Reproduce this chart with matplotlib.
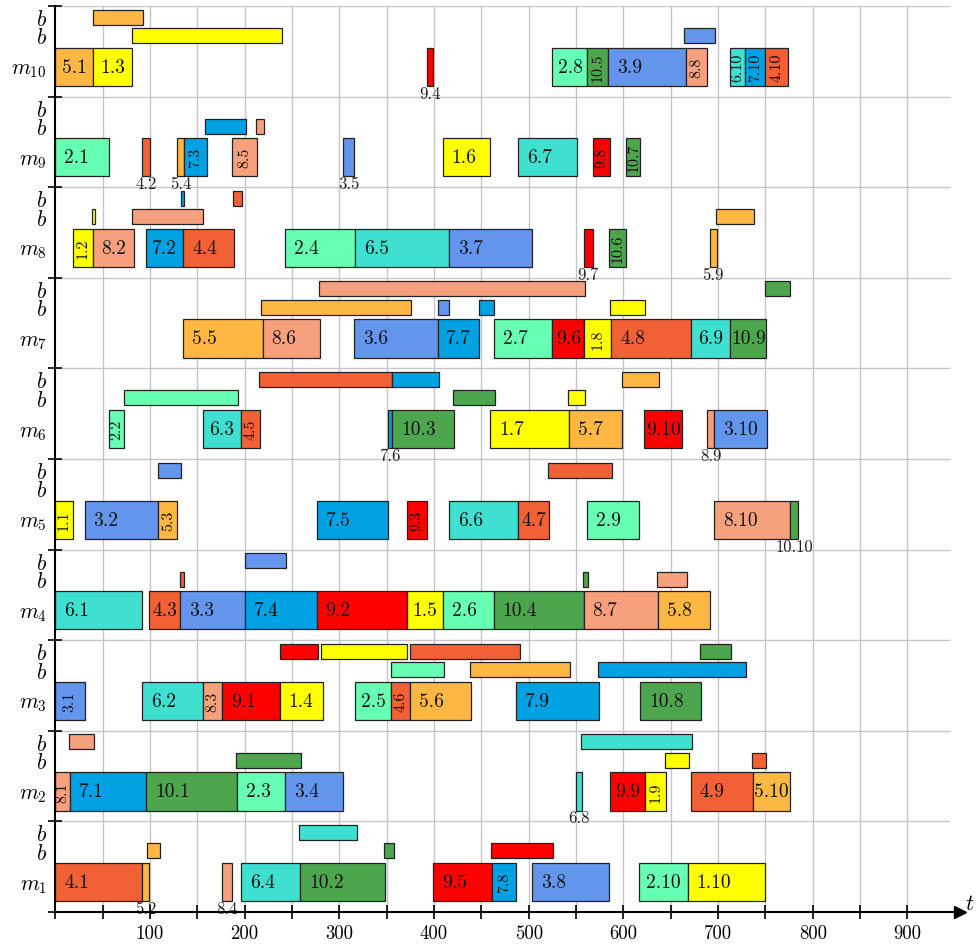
import matplotlib.pyplot as plt
import numpy as np

plt.rcParams['mathtext.fontset'] = 'cm'
plt.rcParams['font.family'] = 'cmr10'
plt.rcParams['axes.formatter.use_mathtext'] = True

# colour of every job
job_colors = {1: '#FFFF00', 2: '#66FFB3', 3: '#6495ED', 4: '#F26035', 5: '#FDB844',
              6: '#40E0D0', 7: '#00A2E3', 8: '#F6A07D', 9: '#FF0000', 10: '#4DA64D'}

# operations "job.op" on each machine: (machine, label, start, end)
ops = [
    (1, '4.1', 0, 92), (1, '5.2', 92, 99), (1, '8.4', 176, 187), (1, '6.4', 196, 259),
    (1, '10.2', 259, 348), (1, '9.5', 399, 461), (1, '7.8', 461, 487), (1, '3.8', 504, 585),
    (1, '2.10', 616, 668), (1, '1.10', 668, 750),
    (2, '8.1', 0, 16), (2, '7.1', 16, 96), (2, '10.1', 96, 192), (2, '2.3', 192, 243),
    (2, '3.4', 243, 304), (2, '6.8', 550, 556), (2, '9.9', 586, 623), (2, '1.9', 623, 645),
    (2, '4.9', 671, 737), (2, '5.10', 737, 776),
    (3, '3.1', 0, 31), (3, '6.2', 92, 156), (3, '8.3', 156, 176), (3, '9.1', 176, 237),
    (3, '1.4', 237, 283), (3, '2.5', 317, 355), (3, '4.6', 355, 375), (3, '5.6', 375, 439),
    (3, '7.9', 487, 574), (3, '10.8', 618, 682),
    (4, '6.1', 0, 92), (4, '4.3', 99, 132), (4, '3.3', 132, 200), (4, '7.4', 200, 276),
    (4, '9.2', 276, 371), (4, '1.5', 371, 409), (4, '2.6', 409, 463), (4, '10.4', 463, 558),
    (4, '8.7', 558, 637), (4, '5.8', 637, 691),
    (5, '1.1', 0, 19), (5, '3.2', 31, 109), (5, '5.3', 109, 129), (5, '7.5', 276, 351),
    (5, '9.3', 371, 393), (5, '6.6', 416, 489), (5, '4.7', 489, 521), (5, '2.9', 562, 616),
    (5, '8.10', 696, 776), (5, '10.10', 776, 784),
    (6, '2.2', 57, 73), (6, '6.3', 156, 196), (6, '4.5', 196, 216), (6, '7.6', 351, 356),
    (6, '10.3', 356, 421), (6, '1.7', 459, 543), (6, '5.7', 543, 599), (6, '9.10', 622, 662),
    (6, '8.9', 688, 696), (6, '3.10', 696, 752),
    (7, '5.5', 135, 219), (7, '8.6', 219, 280), (7, '3.6', 316, 404), (7, '7.7', 404, 448),
    (7, '2.7', 463, 525), (7, '9.6', 525, 558), (7, '1.8', 558, 587), (7, '4.8', 587, 671),
    (7, '6.9', 671, 713), (7, '10.9', 713, 751),
    (8, '1.2', 19, 40), (8, '8.2', 40, 83), (8, '7.2', 96, 135), (8, '4.4', 135, 189),
    (8, '2.4', 243, 317), (8, '6.5', 317, 416), (8, '3.7', 416, 504), (8, '9.7', 558, 568),
    (8, '10.6', 585, 603), (8, '5.9', 691, 699),
    (9, '2.1', 0, 57), (9, '4.2', 92, 100), (9, '5.4', 129, 136), (9, '7.3', 136, 160),
    (9, '8.5', 187, 213), (9, '3.5', 304, 316), (9, '1.6', 409, 459), (9, '6.7', 489, 551),
    (9, '9.8', 568, 586), (9, '10.7', 603, 618),
    (10, '5.1', 0, 40), (10, '1.3', 40, 81), (10, '9.4', 393, 399), (10, '2.8', 525, 562),
    (10, '10.5', 562, 584), (10, '3.9', 584, 666), (10, '8.8', 666, 688), (10, '6.10', 713, 728),
    (10, '7.10', 728, 750), (10, '4.10', 750, 774),
]

# blocking intervals, upper b row: (machine, job, start, end)
b_upper = [
    (1, 6, 257, 319),
    (2, 8, 15, 41), (2, 6, 555, 672),
    (3, 9, 237, 277), (3, 1, 281, 372), (3, 4, 375, 491), (3, 10, 681, 714),
    (4, 3, 200, 244),
    (5, 3, 109, 133), (5, 4, 520, 588),
    (6, 4, 215, 356), (6, 7, 356, 405), (6, 5, 598, 638),
    (7, 8, 279, 559), (7, 10, 750, 776),
    (8, 7, 133, 136), (8, 4, 188, 197),
    (10, 5, 40, 93),
]

# blocking intervals, lower b row
b_lower = [
    (1, 5, 97, 111), (1, 10, 347, 358), (1, 9, 460, 526),
    (2, 10, 191, 260), (2, 1, 644, 669), (2, 4, 736, 751),
    (3, 2, 355, 411), (3, 5, 438, 544), (3, 7, 573, 729),
    (4, 4, 132, 136), (4, 10, 557, 563), (4, 8, 636, 667),
    (6, 2, 73, 193), (6, 10, 420, 464), (6, 1, 542, 559),
    (7, 5, 217, 376), (7, 3, 404, 416), (7, 7, 447, 463), (7, 1, 586, 623),
    (8, 1, 39, 42), (8, 8, 81, 156), (8, 5, 698, 738),
    (9, 7, 158, 202), (9, 8, 212, 220),
    (10, 1, 81, 239), (10, 3, 664, 697),
]

n_machines = 10
band = 10.0
main_y, main_h = 3.3, 4.2
low_y, up_y, b_h = 6.75, 8.78, 1.65

fig = plt.figure(figsize=(9.78, 9.45), dpi=100)
ax = fig.add_axes([55.2 / 978, 32 / 945, 957 * 0.947 / 978, 906 / 945])
ax.set_xlim(0, 957)
ax.set_ylim(0, n_machines * band)

# grid
ax.vlines(np.arange(50, 950, 50), 0, n_machines * band, color='#c6c6c6', lw=1.0, zorder=0)
ax.hlines(np.arange(band, n_machines * band + 1, band), 0, 945, color='#c6c6c6', lw=1.0, zorder=0)

edge = dict(edgecolor='#222222', linewidth=0.9, zorder=2)

for m, job, s, e in b_upper:
    ax.barh((m - 1) * band + up_y, e - s, left=s, height=b_h, color=job_colors[job], **edge)
for m, job, s, e in b_lower:
    ax.barh((m - 1) * band + low_y, e - s, left=s, height=b_h, color=job_colors[job], **edge)


def text_w(s):
    return sum(5.6 if c == '.' else 10.2 for c in s)


for m, lab, s, e in ops:
    job = int(lab.split('.')[0])
    yc = (m - 1) * band + main_y
    w = e - s
    ax.barh(yc, w, left=s, height=main_h, color=job_colors[job], **edge)
    if w < 13:
        ax.text(s + w / 2, yc - main_h / 2 + 0.05, lab, ha='center', va='top',
                fontsize=12, color='#222222', zorder=3)
    elif w < 32:
        ax.text(s + w / 2, yc, lab, ha='center', va='center', rotation=90,
                fontsize=11.5, color='#111111', zorder=3)
    else:
        x0 = s + min(9.5, (w - text_w(lab)) / 2)
        ax.text(x0, yc, lab, ha='left', va='center', fontsize=14, color='#111111', zorder=3)

# axes, ticks and row labels
for side in ['top', 'right']:
    ax.spines[side].set_visible(False)
for side in ['left', 'bottom']:
    ax.spines[side].set_linewidth(1.5)
    ax.spines[side].set_zorder(4)

xt = np.arange(0, 950, 50)
ax.set_xticks(xt)
ax.set_xticklabels([str(v) if v % 100 == 0 and v > 0 else '' for v in xt])
ax.tick_params(axis='x', direction='inout', length=10, width=1.2, labelsize=13.5, pad=4)

ax.set_yticks(np.arange(0, n_machines * band + 1, band))
ax.set_yticklabels([])
ax.tick_params(axis='y', which='major', direction='inout', length=10, width=1.2)

row_pos, row_lab = [], []
for k in range(1, n_machines + 1):
    base = (k - 1) * band
    row_pos += [base + main_y, base + low_y, base + up_y]
    row_lab += ['$m_{%d}$' % k, '$b$', '$b$']
ax.set_yticks(row_pos, minor=True)
ax.set_yticklabels(row_lab, minor=True)
ax.tick_params(axis='y', which='minor', length=0, labelsize=15.5, pad=6)

ax.plot(955, 0, marker='>', color='k', markersize=9, clip_on=False, zorder=5)
ax.text(966, 1.0, '$t$', ha='center', va='center', fontsize=16, clip_on=False)

plt.savefig('out.png', dpi=100)
